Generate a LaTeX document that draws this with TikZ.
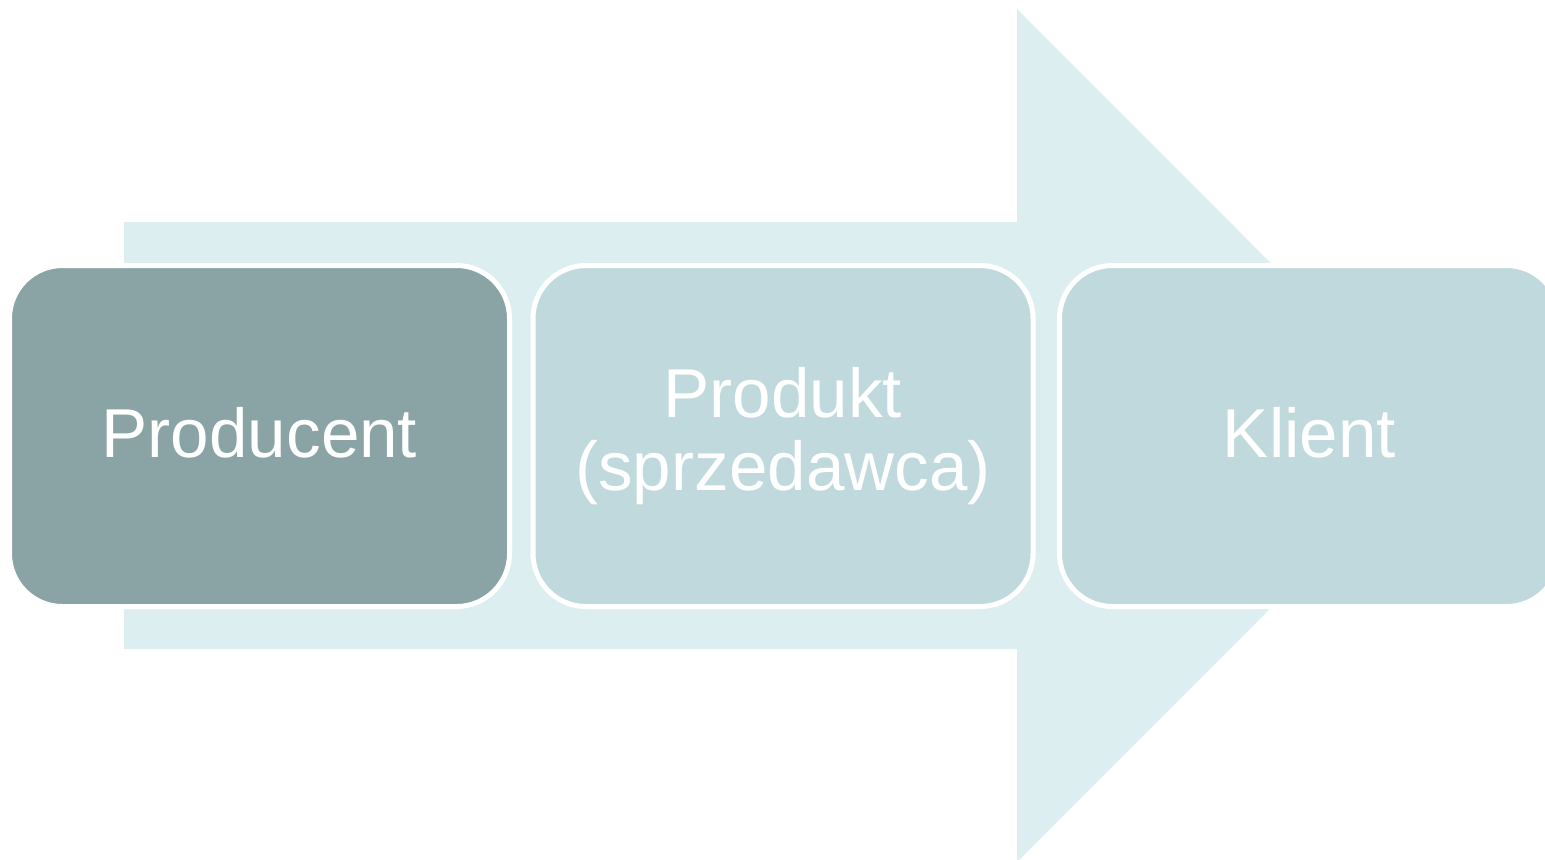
\documentclass[tikz,border=0pt]{standalone}
\usepackage{fontspec}
\setmainfont{Liberation Sans}
\usetikzlibrary{positioning}
\definecolor{myarrow}{RGB}{221,238,241}
\definecolor{mydark}{RGB}{138,164,166}
\definecolor{mylight}{RGB}{191,217,220}
\newcommand{\widthstage}{250pt}
\newcommand{\heightstage}{170.5pt}
\tikzset{
    common/.style={draw=white, line width=2.5pt, rectangle, rounded corners=26.5pt,
        text=white, align=center, font=\fontsize{34.6}{36.5}\selectfont},
    stage/.style={common, fill=mylight, minimum width=\widthstage, minimum height=\heightstage},
    firststage/.style={stage, fill=mydark},
    oneline/.style={text depth=4pt}
}
\begin{document}
\begin{tikzpicture}[x=0.5pt, y=-0.5pt]
    \useasboundingbox (0,0) rectangle (1545,859);

    % big arrow behind the stages
    \fill[myarrow] (124,222) -- (1017,222) -- (1017,9) -- (1443,435.5)
        -- (1017,862) -- (1017,649) -- (124,649) -- cycle;

    \path
        (259.5,436) node[firststage, oneline] (prod) {Producent}
        to ++(523.5,0) node[stage] (sell) {Produkt\\(sprzedawca)}
        to ++(526.5,0) node[stage, oneline] (client) {Klient};
\end{tikzpicture}
\end{document}
